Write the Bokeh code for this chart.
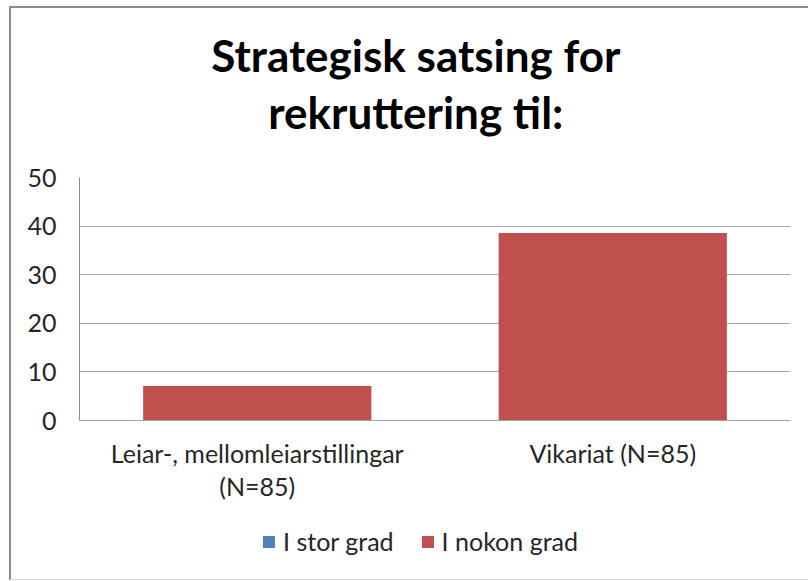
from bokeh.plotting import figure
from bokeh.layouts import column
from bokeh.models import (FactorRange, Range1d, Legend, LegendItem, Label,
                          FixedTicker, ColumnDataSource)
from bokeh.embed import file_html
from bokeh.resources import INLINE

# ---- data ----
categories = ["Leiar-, mellomleiarstillingar\n(N=85)", "Vikariat (N=85)"]
series_names = ["I stor grad", "I nokon grad"]
i_stor_grad = [0, 0]
i_nokon_grad = [7.1, 38.6]
y_ticks = [0, 10, 20, 30, 40, 50]
title_lines = ["Strategisk satsing for", "rekruttering til:"]

colors = ["#4F81BD", "#C0504D"]
FONT = "Lato"
TEXT_COLOR = "#262626"
LABEL_SIZE = "25px"
W = 797

src = ColumnDataSource(dict(cat=categories, stor=i_stor_grad, nokon=i_nokon_grad))


def bare(fig):
    fig.outline_line_color = None
    fig.grid.grid_line_color = None
    fig.background_fill_color = "white"
    fig.border_fill_color = "white"
    return fig


# ---- title area ----
TH = 154
ft = bare(figure(width=W, height=TH, x_range=Range1d(0, W), y_range=Range1d(TH, 0),
                 output_backend="svg", toolbar_location=None,
                 x_axis_location=None, y_axis_location=None, min_border=0))
for txt, yb in zip(title_lines, [46, 103]):
    ft.add_layout(Label(x=377, y=yb, text=txt, text_align="center",
                        text_baseline="alphabetic", text_font=FONT,
                        text_font_style="bold", text_font_size="44px",
                        text_color="#000000"))

# ---- chart ----
p = figure(width=W, height=358, x_range=FactorRange(*categories, range_padding=0),
           y_range=Range1d(0, 50), output_backend="svg", toolbar_location=None,
           min_border_left=68, min_border_right=18, min_border_top=15,
           min_border_bottom=100)

rs = p.vbar_stack(["stor", "nokon"], x="cat", width=0.642, color=colors,
                  line_color=None, source=src)

p.outline_line_color = None
p.xgrid.grid_line_color = None
p.ygrid.grid_line_color = "#A6A6A6"
p.ygrid.grid_line_width = 1.2

p.yaxis.ticker = FixedTicker(ticks=y_ticks)
p.yaxis.axis_line_color = "#8C8C8C"
p.yaxis.major_tick_line_color = None
p.yaxis.minor_tick_line_color = None
p.yaxis.major_label_standoff = 17
p.yaxis.major_label_text_font = FONT
p.yaxis.major_label_text_font_size = LABEL_SIZE
p.yaxis.major_label_text_color = TEXT_COLOR

p.xaxis.axis_line_color = "#A6A6A6"
p.xaxis.major_tick_line_color = None
p.xaxis.minor_tick_line_color = None
p.xaxis.major_label_standoff = 11
p.xaxis.major_label_text_font = FONT
p.xaxis.major_label_text_font_size = LABEL_SIZE
p.xaxis.major_label_text_color = TEXT_COLOR
p.xaxis.major_label_text_line_height = 1.1

# ---- legend strip ----
LH = 59
fl = bare(figure(width=W, height=LH, x_range=FactorRange(*categories),
                 y_range=Range1d(0, 50), output_backend="svg",
                 toolbar_location=None, x_axis_location=None,
                 y_axis_location=None, min_border=0))
lrs = fl.vbar_stack(["stor", "nokon"], x="cat", width=0.642, color=colors,
                    line_color=None, source=src)
for r in lrs:
    r.visible = False

legend = Legend(items=[LegendItem(label=series_names[0], renderers=[lrs[0]]),
                       LegendItem(label=series_names[1], renderers=[lrs[1]])],
                orientation="horizontal", location=(182, 23),
                glyph_width=15, glyph_height=15, label_standoff=7, spacing=26,
                padding=0, margin=0, border_line_color=None,
                background_fill_alpha=0, inactive_fill_alpha=0,
                label_text_font=FONT, label_text_font_size=LABEL_SIZE,
                label_text_color=TEXT_COLOR)
fl.add_layout(legend, "center")

layout = column(ft, p, fl, spacing=0)
layout.styles = {"margin-left": "9px", "margin-top": "6px",
                 "border-left": "2px solid #8C8C8C", "border-top": "2px solid #8C8C8C",
                 "border-bottom": "1px solid #D9D9D9"}

open("out.html", "w").write(file_html(layout, INLINE))
